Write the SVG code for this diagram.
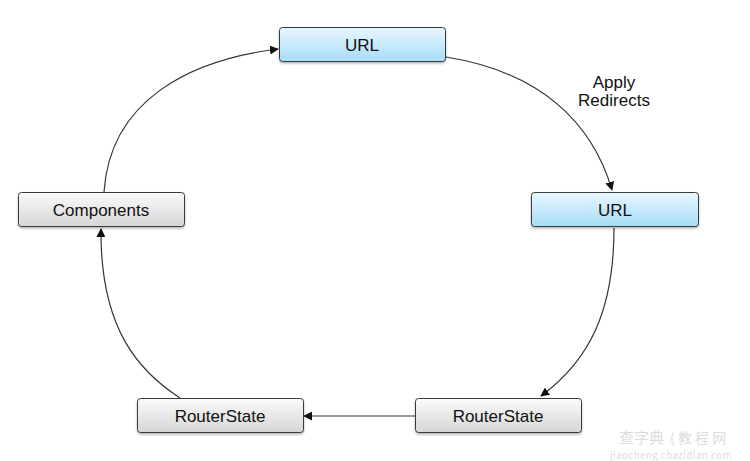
<svg xmlns="http://www.w3.org/2000/svg" width="750" height="461" viewBox="0 0 750 461">
<defs>
<linearGradient id="blue" x1="0" y1="0" x2="0" y2="1">
<stop offset="0" stop-color="#e9f7fe"/>
<stop offset="1" stop-color="#a6dcf7"/>
</linearGradient>
<linearGradient id="grey" x1="0" y1="0" x2="0" y2="1">
<stop offset="0" stop-color="#fbfbfb"/>
<stop offset="1" stop-color="#d6d6d6"/>
</linearGradient>
<filter id="sh" x="-10%" y="-20%" width="120%" height="150%">
<feDropShadow dx="0" dy="1.5" stdDeviation="1" flood-color="#000" flood-opacity="0.3"/>
</filter>
<marker id="arr" viewBox="0 0 10 10" refX="9" refY="5" markerWidth="9" markerHeight="9" markerUnits="userSpaceOnUse" orient="auto">
<path d="M0,0 L10,5 L0,10 z" fill="#111"/>
</marker>
</defs>
<style>
.box{stroke:#3a3a3a;stroke-width:1;filter:url(#sh)}
.lbl{font-family:"Liberation Sans",Arial,sans-serif;font-size:17px;fill:#111;text-anchor:middle}
.edge{fill:none;stroke:#333;stroke-width:1.2;marker-end:url(#arr)}
.wm{font-family:"Noto Sans CJK SC","Liberation Sans",sans-serif;fill:#dcdcdc}
</style>
<rect width="750" height="461" fill="#fff"/>
<g id="connectors">
<path class="edge" d="M446,57 C540,72 592,122 612,190"/>
<path class="edge" d="M614,228 C614,310 590,360 541,396"/>
<path class="edge" d="M415,416 L304,416"/>
<path class="edge" d="M180,398 C140,372 100,330 101,229"/>
<path class="edge" d="M104,192 C110,100 190,60 278,49"/>
<text class="lbl" x="614" y="88">Apply</text>
<text class="lbl" x="614" y="106">Redirects</text>
</g>
<g id="url1">
<rect class="box" x="279.5" y="27.5" width="166" height="34" rx="3" fill="url(#blue)"/>
<text class="lbl" x="362" y="50.5">URL</text>
</g>
<g id="url2">
<rect class="box" x="531.5" y="192.5" width="167" height="34" rx="3" fill="url(#blue)"/>
<text class="lbl" x="615" y="215.5">URL</text>
</g>
<g id="components">
<rect class="box" x="18.5" y="192.5" width="166" height="34" rx="3" fill="url(#grey)"/>
<text class="lbl" x="101" y="215.5">Components</text>
</g>
<g id="routerstate1">
<rect class="box" x="137.5" y="398.5" width="166" height="34" rx="3" fill="url(#grey)"/>
<text class="lbl" x="220" y="421.5">RouterState</text>
</g>
<g id="routerstate2">
<rect class="box" x="415.5" y="398.5" width="166" height="34" rx="3" fill="url(#grey)"/>
<text class="lbl" x="498" y="421.5">RouterState</text>
</g>
<g id="watermark">
<text class="wm" x="619" y="443" font-size="15">查字典</text>
<text class="wm" x="670" y="443" font-size="14">( 教 程 网</text>
<text class="wm" x="610" y="458.5" font-size="9.5" letter-spacing="0.5" font-family="Liberation Sans,sans-serif">jiaocheng.chazidian.com</text>
</g>
</svg>
